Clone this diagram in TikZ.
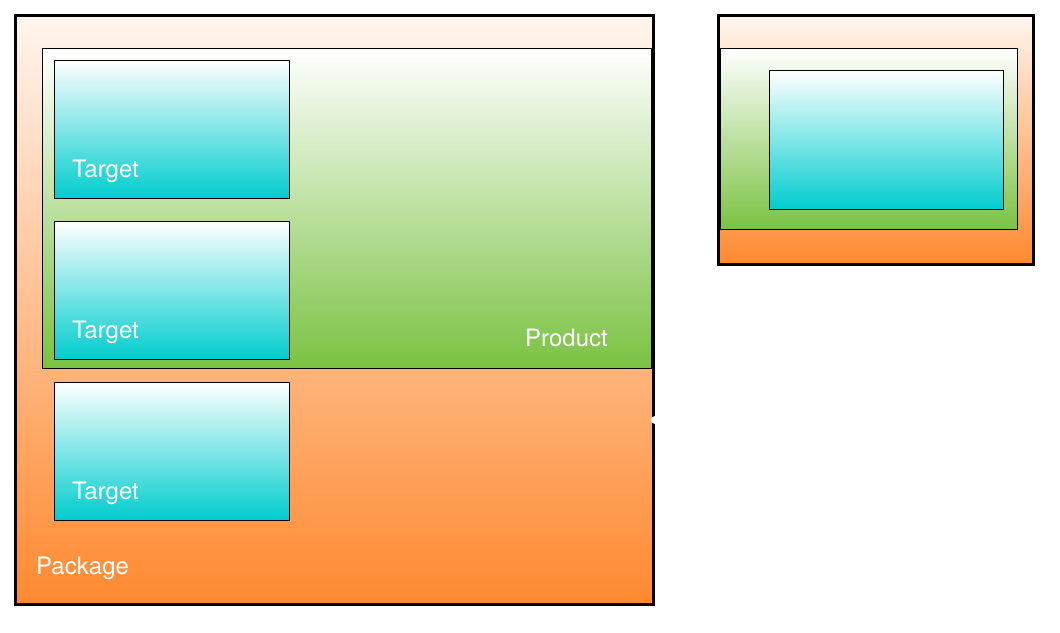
\documentclass[tikz,border=0pt]{standalone}
\usepackage{fontspec}
\setmainfont{TeX Gyre Heros}
\usepackage{tikz}
\usetikzlibrary{positioning}
\definecolor{pkgorange}{RGB}{255,137,48}
\definecolor{pkgmid}{RGB}{255,170,112}
\definecolor{prodgreen}{RGB}{122,194,66}
\definecolor{tgtcyan}{RGB}{0,204,206}

\begin{document}
\begin{tikzpicture}[x=1pt,y=-1pt,
    box/.style={rectangle,anchor=north west,inner sep=0pt,draw=black},
    pkgbox/.style={box,line width=3pt,top color=white!92!pkgorange,middle color=pkgmid,bottom color=pkgorange},
    prodbox/.style={box,line width=1pt,top color=white,bottom color=prodgreen},
    tgtbox/.style={box,line width=1pt,top color=white,bottom color=tgtcyan,minimum width=235pt,minimum height=138pt},
    lbl/.style={text=white,inner sep=0pt,font=\fontsize{24}{28}\selectfont},
    ]
\useasboundingbox (0,0) rectangle (1060,632);

% left package
\node[pkgbox,minimum width=638pt,minimum height=589pt] (pkgA) at (14,14) {};
\node[prodbox,minimum width=609pt,minimum height=320pt] (prodA) at (42,48) {};
\node[tgtbox] (tgtA) at (54,60) {};
\node[tgtbox] (tgtB) at (54,221) {};
\node[tgtbox] (tgtC) at (54,382) {};

\node[lbl,anchor=west] at ([shift={(18,-28)}]tgtA.south west) {Target};
\node[lbl,anchor=west] at ([shift={(18,-28)}]tgtB.south west) {Target};
\node[lbl,anchor=west] at ([shift={(18,-28)}]tgtC.south west) {Target};
\node[lbl,anchor=east] at ([shift={(-44,-31)}]prodA.south east) {Product};
\node[lbl,anchor=west] at ([shift={(22,-38)}]pkgA.south west) {Package};

\fill[white] ([shift={(0,110)}]pkgA.east) circle (4pt); % dot on border

% right package
\node[pkgbox,minimum width=315pt,minimum height=249pt] (pkgB) at (717,14) {};
\node[prodbox,minimum width=297pt,minimum height=181pt] (prodB) at (720,48) {};
\node[tgtbox,minimum width=234pt,minimum height=139pt] (tgtD) at (769,70) {};
\end{tikzpicture}
\end{document}
